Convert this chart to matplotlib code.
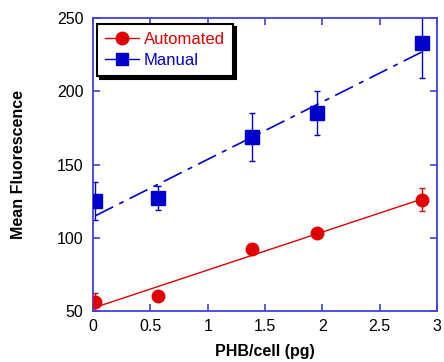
import matplotlib
matplotlib.use("Agg")
import matplotlib.pyplot as plt

plt.rcParams['font.family'] = ['Liberation Sans', 'DejaVu Sans']

# data
phb = [0.02, 0.57, 1.39, 1.95, 2.87]
auto_mean = [56, 60, 92, 103, 126]
auto_err = [6, 3, 0, 0, 8]
manual_mean = [125, 127, 169, 185, 233]
manual_err = [13, 8, 16.5, 15, 24]

# fitted lines (end points)
fit_x = [0.02, 2.87]
auto_fit = [52.5, 126.5]
manual_fit = [115, 227]

red = '#e00000'
blue = '#0000cc'
axis_blue = '#4040e0'

fig = plt.figure(figsize=(4.44, 3.62), dpi=100)
ax = fig.add_axes([0.2095, 0.141, 0.775, 0.809])

ax.plot(fit_x, auto_fit, color=red, lw=1.0)
ax.plot(fit_x, manual_fit, color=blue, lw=1.2, dashes=(12, 4, 3, 4))

ax.errorbar(phb, auto_mean, yerr=auto_err, fmt='none', ecolor=red, elinewidth=1.0, capsize=2)
ax.errorbar(phb, manual_mean, yerr=manual_err, fmt='none', ecolor=blue, elinewidth=1.0, capsize=2)
ax.plot(phb, auto_mean, 'o', color=red, ms=9, mec=red, zorder=5)
ax.plot(phb, manual_mean, 's', color=blue, ms=9.5, mec=blue, zorder=5)

# legend handles
h1, = ax.plot([], [], '-o', color=red, lw=1.0, ms=9)
h2, = ax.plot([], [], '-s', color=blue, lw=1.0, ms=9)
leg = ax.legend([h1, h2], ['Automated', 'Manual'], loc='upper left',
                bbox_to_anchor=(0.012, 0.98), borderaxespad=0, fontsize=12,
                frameon=True, fancybox=False, handlelength=2.0,
                handletextpad=0.3, labelspacing=0.32, borderpad=0.5,
                shadow={'color': 'black', 'alpha': 1, 'ox': 2, 'oy': -2})
leg.get_frame().set_edgecolor('black')
leg.get_frame().set_linewidth(1.5)
leg.get_texts()[0].set_color(red)
leg.get_texts()[1].set_color(blue)

ax.set_xlim(0, 3)
ax.set_ylim(50, 250)
ax.set_xticks([0, 0.5, 1, 1.5, 2, 2.5, 3])
ax.set_xticklabels(['0', '0.5', '1', '1.5', '2', '2.5', '3'])
ax.set_yticks([50, 100, 150, 200, 250])
ax.tick_params(direction='in', length=5, width=1.2, color=axis_blue,
               top=True, right=True, labelsize=11.5)
ax.tick_params(axis='x', pad=6)
ax.tick_params(axis='y', pad=7)
for s in ax.spines.values():
    s.set_color(axis_blue)
    s.set_linewidth(1.3)

ax.set_xlabel('PHB/cell (pg)', fontsize=11.5, fontweight='bold', labelpad=7)
ax.set_ylabel('Mean Fluorescence', fontsize=11.5, fontweight='bold', labelpad=22)

fig.savefig('out.png', dpi=100)
